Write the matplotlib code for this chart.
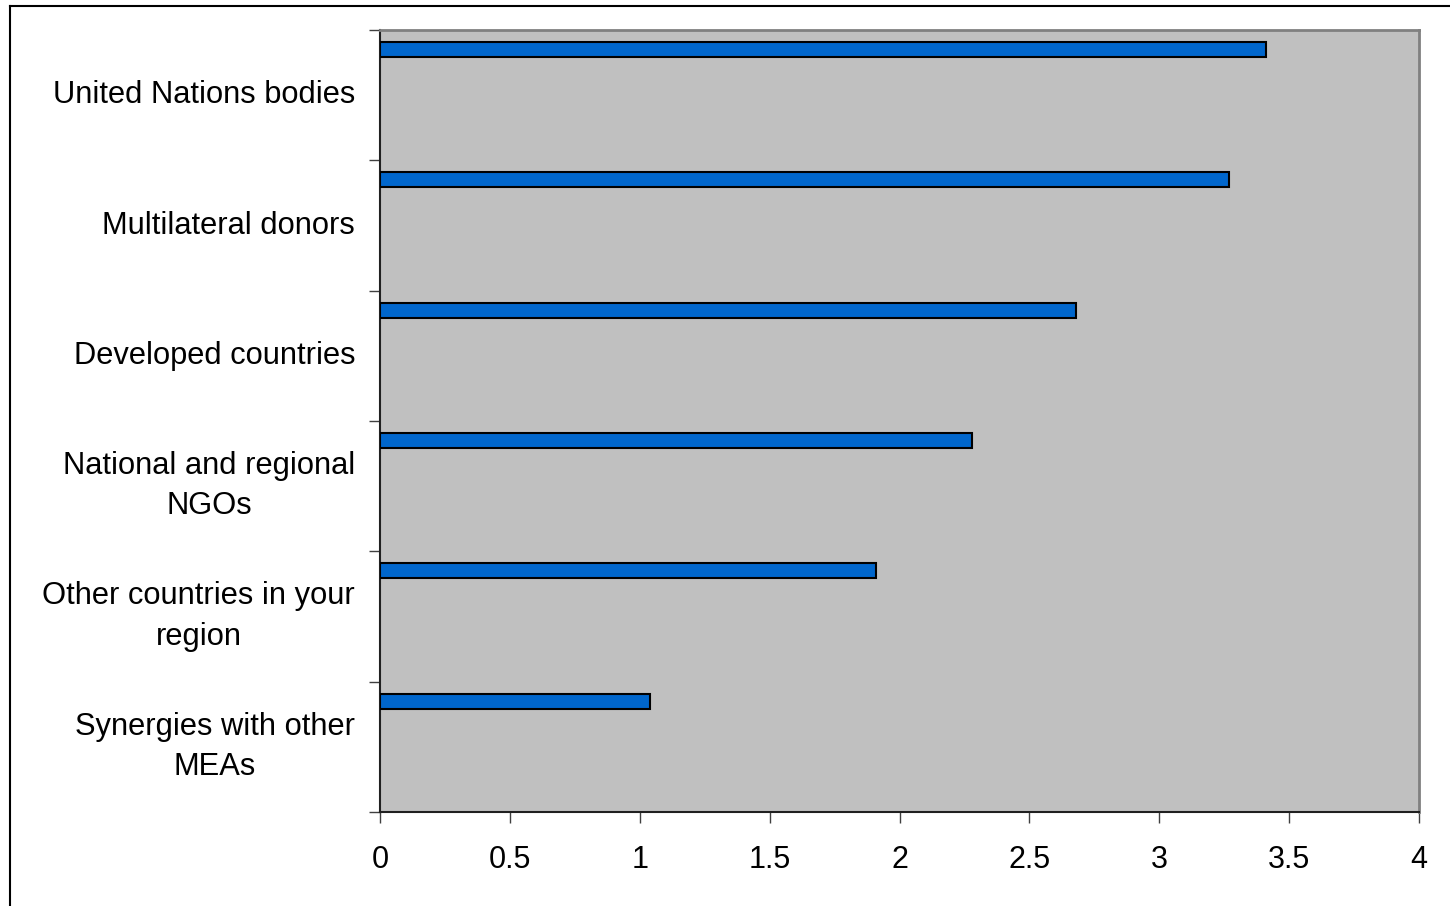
import matplotlib
matplotlib.use("Agg")
import matplotlib.pyplot as plt
from matplotlib.lines import Line2D

# categories from bottom to top
categories = [
    "Synergies with other\nMEAs",
    "Other countries in your\nregion",
    "National and regional\nNGOs",
    "Developed countries",
    "Multilateral donors",
    "United Nations bodies",
]
values = [1.04, 1.91, 2.28, 2.68, 3.27, 3.41]
xticks = [0, 0.5, 1, 1.5, 2, 2.5, 3, 3.5, 4]
xticklabels = ["0", "0.5", "1", "1.5", "2", "2.5", "3", "3.5", "4"]

plt.rcParams["font.family"] = ["Liberation Sans", "DejaVu Sans"]

fig = plt.figure(figsize=(14.5, 9.06), dpi=100)
ax = fig.add_axes([380 / 1450, 1 - 812 / 906, 1039 / 1450, 782 / 906])
ax.set_facecolor("#c0c0c0")

n = len(categories)
pos = [i + 0.35 for i in range(n)]
ax.barh(pos, values, height=0.115, color="#0066cc", edgecolor="black",
        linewidth=1.5, zorder=3)

ax.set_xlim(0, 4)
ax.set_ylim(-0.5, n - 0.5)
ax.set_xticks(xticks)
ax.set_xticklabels(xticklabels, fontsize=22)
ax.tick_params(axis="x", direction="out", length=8, width=1, pad=16,
               color="#404040")

# ticks at category boundaries, labels at band centres
ax.set_yticks([i - 0.5 for i in range(n + 1)])
ax.set_yticklabels([])
ax.tick_params(axis="y", direction="out", length=8, width=1, color="#404040")
for i, lab in enumerate(categories):
    ax.text(-25 / 1039, i, lab, ha="right", va="center",
            multialignment="center", fontsize=22.2,
            transform=ax.get_yaxis_transform(), linespacing=1.45)

for side in ["top", "right"]:
    ax.spines[side].set_color("#808080")
    ax.spines[side].set_linewidth(2)
for side in ["left", "bottom"]:
    ax.spines[side].set_color("#202020")
    ax.spines[side].set_linewidth(1.5)

# figure border (left and top edges visible)
fig.add_artist(Line2D([10 / 1450, 10 / 1450], [0, 1 - 6 / 906],
                      transform=fig.transFigure, color="black", linewidth=1.5))
fig.add_artist(Line2D([10 / 1450, 1], [1 - 6 / 906, 1 - 6 / 906],
                      transform=fig.transFigure, color="black", linewidth=1.5))

fig.savefig("out.png", dpi=100)
